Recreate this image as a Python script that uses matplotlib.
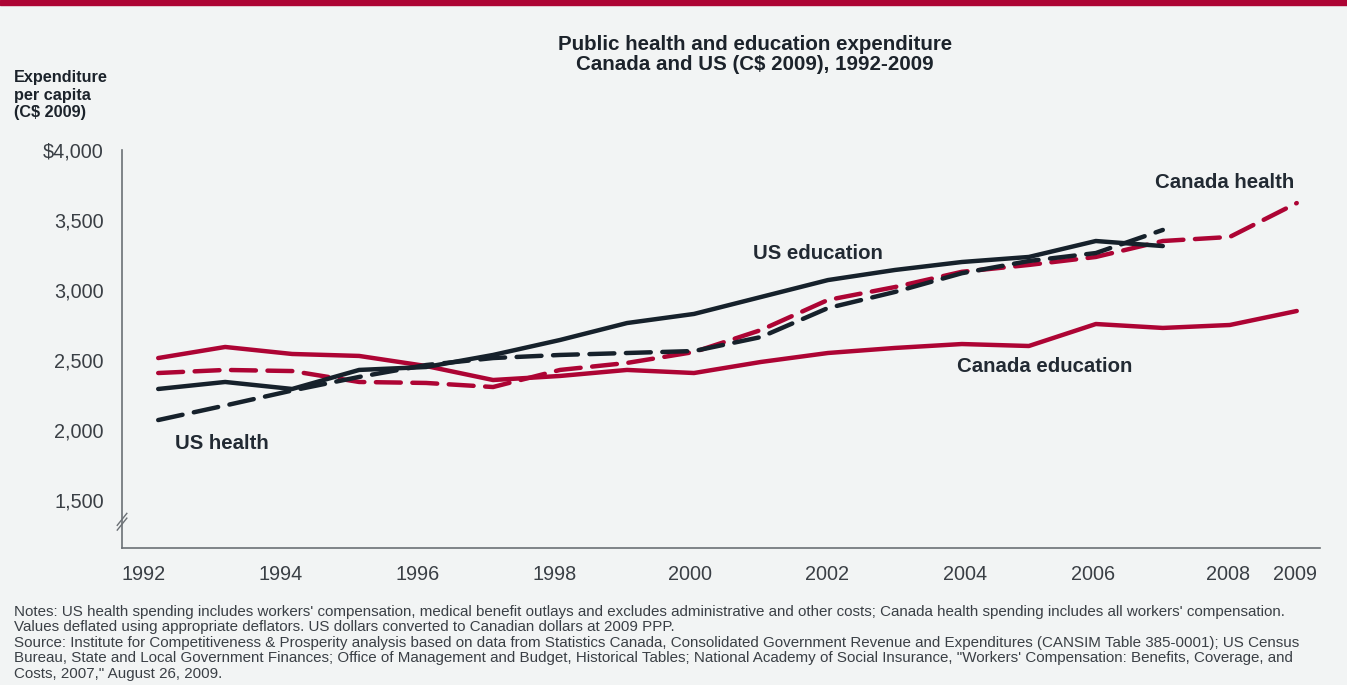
import matplotlib.pyplot as plt
import matplotlib.transforms as mtransforms
import numpy as np

plt.rcParams['font.family'] = ['Liberation Sans', 'DejaVu Sans']

RED = '#ad0434'
NAVY = '#16212b'
BG = '#f2f4f4'

years = np.arange(1992, 2010)
us_years = np.arange(1992, 2008)

canada_education = [2514, 2593, 2543, 2529, 2457, 2357, 2386, 2429, 2407,
                    2486, 2550, 2586, 2614, 2600, 2757, 2729, 2750, 2850]
canada_health = [2407, 2429, 2421, 2343, 2336, 2307, 2429, 2479, 2557,
                 2714, 2929, 3021, 3130, 3179, 3236, 3350, 3379, 3621]
us_education = [2293, 2343, 2293, 2429, 2450, 2536, 2643, 2764, 2829,
                2950, 3071, 3143, 3200, 3236, 3350, 3314]
us_health = [2071, 2175, 2282, 2379, 2464, 2514, 2536, 2550, 2564,
             2664, 2871, 2986, 3120, 3207, 3264, 3429]

yticks = [1500, 2000, 2500, 3000, 3500, 4000]
ytick_labels = ['1,500', '2,000', '2,500', '3,000', '3,500', '$4,000']
xticks = [1992, 1994, 1996, 1998, 2000, 2002, 2004, 2006, 2008, 2009]
# small horizontal nudges (pixels) for the year labels
xlabel_shift = [-15, -12, -8, -5, -4, -1, 3, -3, -2, -2]

notes = [
    "Notes: US health spending includes workers' compensation, medical benefit outlays and excludes administrative and other costs; Canada health spending includes all workers' compensation.",
    "Values deflated using appropriate deflators. US dollars converted to Canadian dollars at 2009 PPP.",
    "Source: Institute for Competitiveness & Prosperity analysis based on data from Statistics Canada, Consolidated Government Revenue and Expenditures (CANSIM Table 385-0001); US Census",
    "Bureau, State and Local Government Finances; Office of Management and Budget, Historical Tables; National Academy of Social Insurance, \"Workers' Compensation: Benefits, Coverage, and",
    "Costs, 2007,\" August 26, 2009.",
]

fig = plt.figure(figsize=(13.47, 6.85), dpi=100, facecolor=BG)
ax = fig.add_axes([0.0906, 0.2, 0.889, 0.581], facecolor=BG)

# red band across the top
fig.patches.append(plt.Rectangle((0, 1 - 5 / 685), 1, 5 / 685, transform=fig.transFigure,
                                 color=RED, zorder=0))

lw = 3.2
dash = (0, (5.6, 2.6))
ax.plot(years, canada_education, color=RED, lw=lw, solid_capstyle='round', solid_joinstyle='round')
ax.plot(years, canada_health, color=RED, lw=lw, linestyle=dash, dash_capstyle='round')
ax.plot(us_years, us_education, color=NAVY, lw=lw, solid_capstyle='round', solid_joinstyle='round')
ax.plot(us_years, us_health, color=NAVY, lw=lw, linestyle=dash, dash_capstyle='round')

lab = dict(fontsize=14.7, fontweight='bold', color='#222a33', ha='center', va='center')
ax.text(2001.85, 3264, 'US education', **lab)
ax.text(2007.93, 3771, 'Canada health', **lab)
ax.text(2005.24, 2450, 'Canada education', **lab)
ax.text(1992.95, 1907, 'US health', **lab)

ax.set_xlim(1991.46, 2009.34)
ax.set_ylim(1157, 4000)
ax.set_xticks(xticks)
ax.set_xticklabels([str(y) for y in xticks])
ax.set_yticks(yticks)
ax.set_yticklabels(ytick_labels)
ax.tick_params(length=0, labelsize=14.3, labelcolor='#3a3f45')
ax.tick_params(axis='x', pad=12)
ax.tick_params(axis='y', pad=13)

for lbl, dx in zip(ax.get_xticklabels(), xlabel_shift):
    lbl.set_transform(lbl.get_transform() + mtransforms.ScaledTranslation(dx / 100, 0, fig.dpi_scale_trans))

for side in ('top', 'right'):
    ax.spines[side].set_visible(False)
for side in ('left', 'bottom'):
    ax.spines[side].set_color('#6b7075')
    ax.spines[side].set_linewidth(1.2)

# axis break marks on the y axis
for dy in (0.0, 0.012):
    ax.plot([-0.004, 0.004], [0.045 + dy, 0.075 + dy], transform=ax.transAxes,
            color='#6b7075', lw=1.0, clip_on=False)

fig.text(0.5605, 0.92, 'Public health and education expenditure\nCanada and US (C$ 2009), 1992-2009',
         ha='center', va='center', fontsize=14.8, fontweight='bold', color='#1c232b',
         linespacing=1.05)
fig.text(0.0104, 0.861, 'Expenditure\nper capita\n(C$ 2009)', ha='left', va='center',
         fontsize=11.7, fontweight='bold', color='#1c232b', linespacing=1.2)

fig.text(0.0104, 0.117, '\n'.join(notes), ha='left', va='top', fontsize=10.9,
         color='#3a3f45', linespacing=1.14)

fig.savefig('out.png', dpi=100, facecolor=BG)
